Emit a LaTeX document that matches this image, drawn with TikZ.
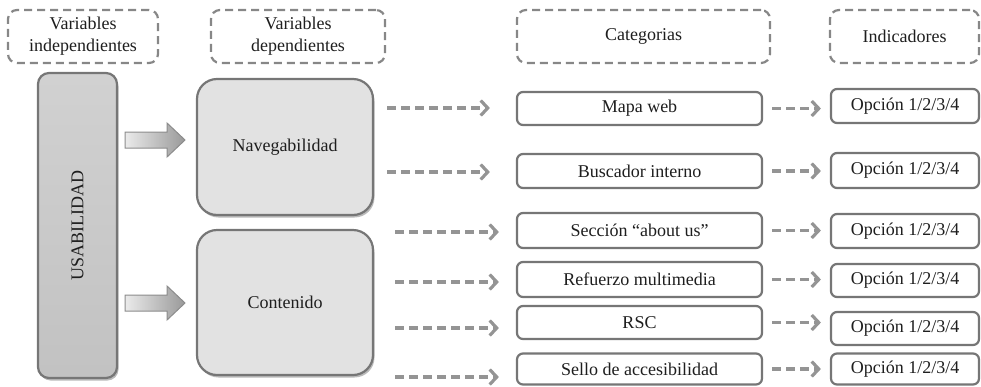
\documentclass[tikz,border=0pt]{standalone}
\usepackage{fontspec}
\setmainfont{Liberation Serif}
\usetikzlibrary{arrows.meta,shadows,calc}
\definecolor{bord}{RGB}{118,118,118}
\definecolor{dashc}{RGB}{135,135,135}
\definecolor{arrc}{RGB}{148,148,148}
\definecolor{txt}{RGB}{30,30,30}
\definecolor{lightf}{RGB}{226,226,226}
\begin{document}
\begin{tikzpicture}[x=1pt,y=-1pt,
  every node/.style={font=\fontsize{18}{22}\selectfont, text=txt, align=center, inner sep=0pt},
  hdr/.style={draw=dashc, line width=2.2pt, dash pattern=on 8pt off 5pt, rounded corners=9pt, minimum height=53pt},
  catbox/.style={draw=bord, line width=2.2pt, rounded corners=6pt, fill=white, minimum width=245pt},
  indbox/.style={draw=bord, line width=2.2pt, rounded corners=6pt, fill=white, minimum width=148pt},
  bigbox/.style={draw=bord, line width=2.2pt, rounded corners=20pt, fill=lightf, minimum width=176pt,
    drop shadow={shadow xshift=1.5pt, shadow yshift=-2.5pt, fill=black!45, opacity=0.6}},
  darr/.style={draw=arrc, line width=3.4pt, dash pattern=on 9pt off 5pt,
    -{Straight Barb[length=7pt,width=15pt,line width=3.2pt]}},
  blockarr/.style={draw=black!45, line width=1pt, left color=white!92!black, right color=black!40}
]
\useasboundingbox (0,0) rectangle (981,386);

% headers
\node[hdr, minimum width=150pt] (h1) at (83,36.5) {Variables\\independientes};
\node[hdr, minimum width=174pt] (h2) at (298,36.5) {Variables\\dependientes};
\node[hdr, minimum width=253pt] (h3) at (643.5,36.5) {Categorias};
\node[hdr, minimum width=149pt] (h4) at (904.5,36.5) {Indicadores};

% usabilidad
\node[draw=bord, line width=2.2pt, rounded corners=11pt, minimum width=79pt, minimum height=305pt,
  top color=black!18, bottom color=black!24,
  drop shadow={shadow xshift=1.5pt, shadow yshift=-2.5pt, fill=black!45, opacity=0.6}] (usab) at (77.5,225.5) {};
\node[rotate=90] (usabt) at (usab.center) {USABILIDAD};

% dependent variables
\node[bigbox, minimum height=136pt] (nav) at (285,147) {Navegabilidad};
\node[bigbox, minimum height=145pt] (cont) at (285,302.5) {Contenido};

% block arrows
\path[blockarr] (125,132) -- (167,132) -- (167,123) -- (185,140) -- (167,157) -- (167,148) -- (125,148) -- cycle;
\path[blockarr] (125,295) -- (167,295) -- (167,286) -- (185,303) -- (167,320) -- (167,311) -- (125,311) -- cycle;

% categories
\node[catbox, minimum height=33pt] (c1) at (639.5,108.5) {Mapa web};
\node[catbox, minimum height=34pt] (c2) at (639.5,171) {Buscador interno};
\node[catbox, minimum height=35pt] (c3) at (639.5,230.5) {Sección “about us”};
\node[catbox, minimum height=35pt] (c4) at (639.5,279.5) {Refuerzo multimedia};
\node[catbox, minimum height=33pt] (c5) at (639.5,322.5) {RSC};
\node[catbox, minimum height=31pt] (c6) at (639.5,369) {Sello de accesibilidad};

% indicators
\node[indbox, minimum height=34pt] (i1) at (905,106) {Opción 1/2/3/4};
\node[indbox, minimum height=35pt] (i2) at (905,170.5) {Opción 1/2/3/4};
\node[indbox, minimum height=34pt] (i3) at (905,231) {Opción 1/2/3/4};
\node[indbox, minimum height=33pt] (i4) at (905,280.5) {Opción 1/2/3/4};
\node[indbox, minimum height=33pt] (i5) at (905,328.5) {Opción 1/2/3/4};
\node[indbox, minimum height=31pt] (i6) at (905,369) {Opción 1/2/3/4};

% start points of dashed arrows
\coordinate (s1) at (387,108);
\coordinate (s2) at (387,172);
\coordinate (s3) at (395,232);
\coordinate (s4) at (395,282);
\coordinate (s5) at (395,328);
\coordinate (s6) at (395,377);

\draw[darr, shorten >=26pt] (s1) -- (c1.west |- s1);
\draw[darr, shorten >=26pt] (s2) -- (c2.west |- s2);
\draw[darr, shorten >=17pt] (s3) -- (c3.west |- s3);
\draw[darr, shorten >=17pt] (s4) -- (c4.west |- s4);
\draw[darr, shorten >=17pt] (s5) -- (c5.west |- s5);
\draw[darr, shorten >=17pt] (s6) -- (c6.west |- s6);

\foreach \k in {1,...,6}{
  \draw[darr, shorten <=9pt, shorten >=9pt] (c\k.east) -- (i\k.west |- c\k.east);
}
\end{tikzpicture}
\end{document}
